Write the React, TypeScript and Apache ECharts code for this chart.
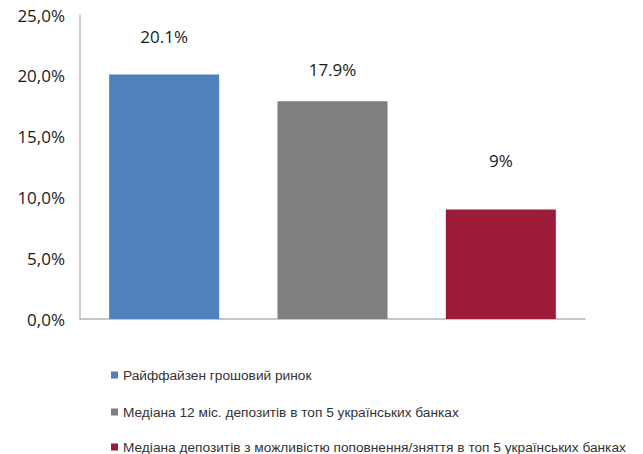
import React, { useEffect, useRef } from "react";
import * as echarts from "echarts";

const categories = [
  "Райффайзен грошовий ринок",
  "Медіана 12 міс. депозитів в топ 5 українських банках",
  "Медіана депозитів з можливістю поповнення/зняття в топ 5 українських банках",
];
const values = [20.1, 17.9, 9];
const valueLabels = ["20.1%", "17.9%", "9%"];
const colors = ["#4F81BD", "#7F7F7F", "#9B1B38"];
const labelDistances = [30, 23, 41];
const yTicks = [0, 5, 10, 15, 20, 25];

export default function App() {
  const ref = useRef<HTMLDivElement>(null);
  useEffect(() => {
    if (!ref.current) return;
    const chart = echarts.init(ref.current, undefined, { renderer: "svg" });
    const series = categories.map((name, i) => ({
      name,
      type: "bar",
      barWidth: 110,
      barGap: "-100%",
      itemStyle: { color: colors[i] },
      data: categories.map((_, j) =>
        j === i
          ? {
              value: values[j],
              label: {
                show: true,
                position: "top",
                distance: labelDistances[j],
                formatter: valueLabels[j],
                fontFamily: "Open Sans",
                fontSize: 17,
                color: "#1a1a1a",
              },
            }
          : "-"
      ),
    }));
    const legendTops = [368, 405, 440];
    chart.setOption({
      animation: false,
      grid: { left: 80, right: 58, top: 15, bottom: 135 },
      xAxis: {
        type: "category",
        data: categories,
        axisLine: { show: true, lineStyle: { color: "#b3b3b3", width: 1.5 } },
        axisTick: { show: false },
        axisLabel: { show: false },
      },
      yAxis: {
        type: "value",
        min: yTicks[0],
        max: yTicks[yTicks.length - 1],
        interval: 5,
        axisLine: { show: true, lineStyle: { color: "#bfbfbf", width: 1.5 } },
        axisTick: { show: false },
        splitLine: { show: false },
        axisLabel: {
          margin: 15,
          fontFamily: "Open Sans",
          fontSize: 17,
          color: "#1a1a1a",
          formatter: (v: number) => v.toFixed(1).replace(".", ",") + "%",
        },
      },
      legend: categories.map((c, i) => ({
        orient: "horizontal",
        left: 111,
        top: legendTops[i],
        padding: 0,
        icon: "rect",
        itemWidth: 7,
        itemHeight: 7,
        data: [c],
        textStyle: {
          fontFamily: "Liberation Sans",
          fontSize: 13.7,
          lineHeight: 14,
          color: "#333",
        },
      })),
      series,
    });
    return () => chart.dispose();
  }, []);
  return <div ref={ref} style={{ width: 643, height: 454, position: "absolute", left: 0, top: 0 }} />;
}
